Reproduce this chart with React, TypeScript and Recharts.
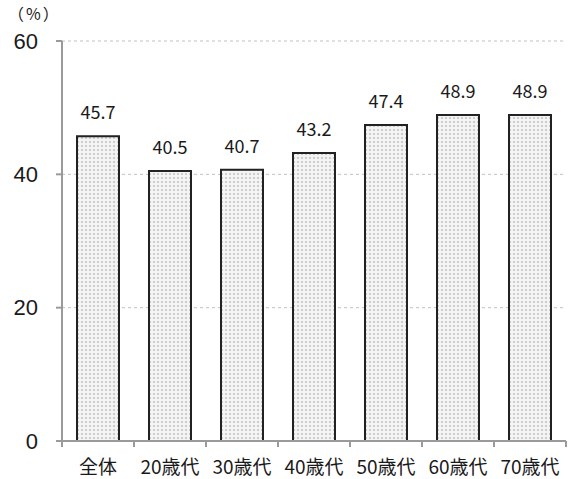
import { BarChart, Bar, XAxis, YAxis, CartesianGrid, LabelList } from "recharts";

const categories = ["全体", "20歳代", "30歳代", "40歳代", "50歳代", "60歳代", "70歳代"];
const rates = [45.7, 40.5, 40.7, 43.2, 47.4, 48.9, 48.9];
const yTicks = [0, 20, 40, 60];

const data = categories.map((name, i) => ({ name, rate: rates[i] }));

const WIDTH = 568;
const HEIGHT = 479;
const Y_AXIS_W = 62;
const MARGIN_RIGHT = 2;
const PLOT_W = WIDTH - Y_AXIS_W - MARGIN_RIGHT;
const BAND = PLOT_W / categories.length;
const FONT = '"Noto Sans CJK JP", "Noto Sans", sans-serif';
const NUM_FONT = '"Liberation Sans", Arial, sans-serif';
const AXIS_COLOR = "#9a9a9a";

// category label plus tick marks on the band edges instead of the centre
const CategoryTick = (props: any) => {
  const { x, y, payload, index } = props;
  const right = x + BAND / 2;
  const left = x - BAND / 2;
  return (
    <g>
      {index === 0 && (
        <line x1={left} x2={left} y1={y} y2={y + 6} stroke={AXIS_COLOR} strokeWidth={2} />
      )}
      <line x1={right} x2={right} y1={y} y2={y + 6} stroke={AXIS_COLOR} strokeWidth={2} />
      <text x={x} y={y + 33} textAnchor="middle" fontSize={19} fill="#1a1a1a" fontFamily={FONT}>
        {payload.value}
      </text>
    </g>
  );
};

export default function App() {
  return (
    <div style={{ position: "relative", width: WIDTH, height: HEIGHT, fontFamily: FONT }}>
      <style>{"body{margin:0}"}</style>
      <svg width={0} height={0} style={{ position: "absolute" }}>
        <defs>
          <pattern id="dots" width="4" height="4" patternUnits="userSpaceOnUse">
            <rect width="4" height="4" fill="#f4f4f4" />
            <rect x="1" y="1" width="2" height="2" fill="#cdcdcd" />
          </pattern>
        </defs>
      </svg>
      <span
        style={{
          position: "absolute",
          left: 8,
          top: 4,
          fontSize: 16,
          lineHeight: "18px",
          letterSpacing: 2,
          color: "#1a1a1a",
        }}
      >
        （%）
      </span>
      <BarChart
        width={WIDTH}
        height={HEIGHT}
        data={data}
        margin={{ top: 41, right: MARGIN_RIGHT, bottom: 0, left: 0 }}
      >
        <CartesianGrid
          vertical={false}
          stroke="#c0c0c0"
          strokeDasharray="3 3"
        />
        <XAxis
          dataKey="name"
          height={38}
          tickLine={false}
          tickSize={0}
          tickMargin={0}
          axisLine={{ stroke: AXIS_COLOR, strokeWidth: 2 }}
          tick={<CategoryTick />}
          interval={0}
        />
        <YAxis
          width={Y_AXIS_W}
          domain={[0, 60]}
          ticks={yTicks}
          tickSize={6}
          tickMargin={18}
          tickLine={{ stroke: AXIS_COLOR, strokeWidth: 2 }}
          axisLine={{ stroke: AXIS_COLOR, strokeWidth: 2 }}
          tick={{ fontSize: 22, fill: "#1a1a1a", fontFamily: NUM_FONT }}
        />
        <Bar
          dataKey="rate"
          barSize={42}
          fill="url(#dots)"
          stroke="#222"
          strokeWidth={2}
          isAnimationActive={false}
        >
          <LabelList
            dataKey="rate"
            position="top"
            offset={17}
            fontSize={18}
            fill="#1a1a1a"
            fontFamily={FONT}
            formatter={(v: any) => Number(v).toFixed(1)}
          />
        </Bar>
      </BarChart>
    </div>
  );
}
